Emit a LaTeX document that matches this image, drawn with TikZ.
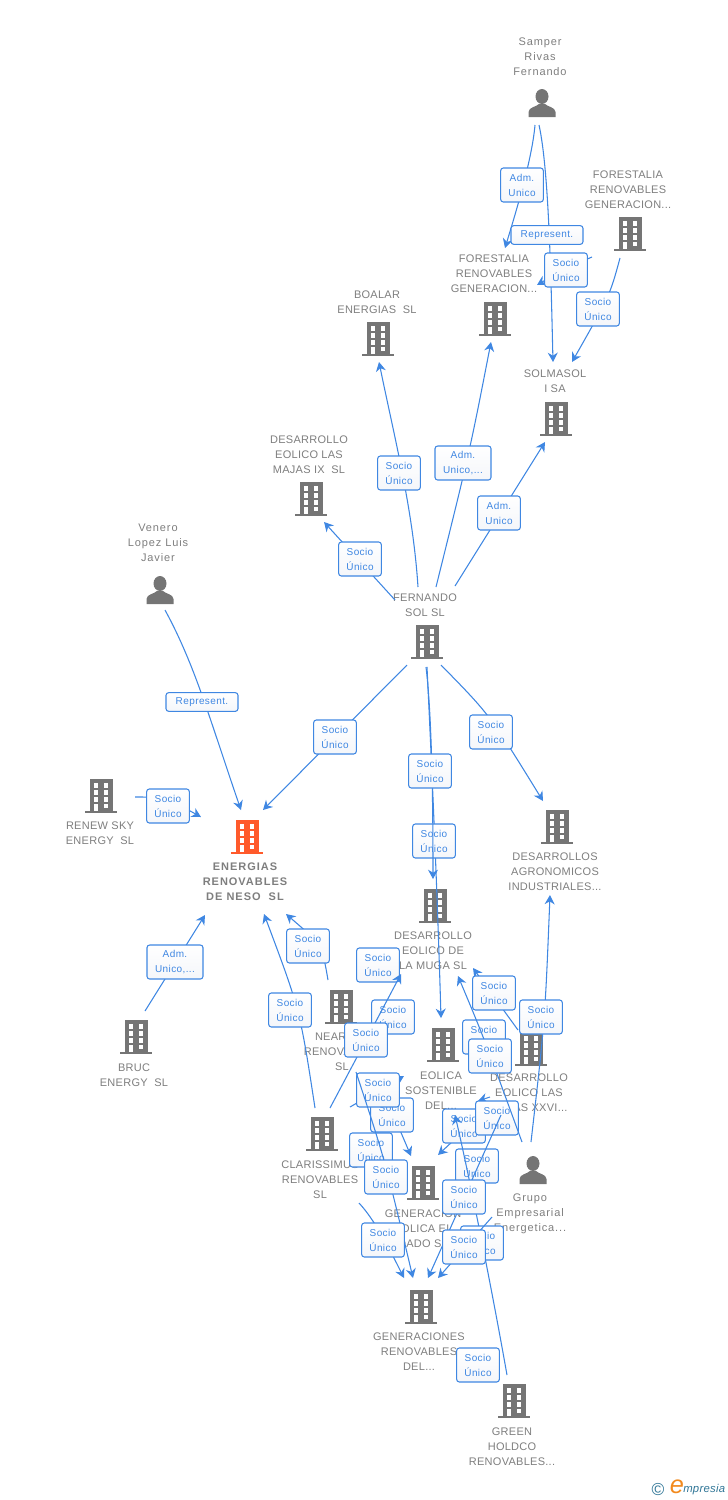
\documentclass[tikz,border=0pt]{standalone}
\usepackage{fontspec}
\setmainfont[LetterSpace=2.5]{Liberation Sans}
\newfontfamily\personfont[LetterSpace=8]{Liberation Sans}
\newfontfamily\nesofont[LetterSpace=9]{Liberation Sans}
\newfontfamily\relfont[LetterSpace=4]{Liberation Sans}
\usetikzlibrary{arrows.meta}

\definecolor{linkblue}{HTML}{3F87E2}
\definecolor{boxshade}{HTML}{F4F6FA}
\definecolor{icongray}{HTML}{757575}
\definecolor{textgray}{HTML}{7E7E7E}
\definecolor{nesoorange}{HTML}{FF5A2B}
\definecolor{marktea}{HTML}{2F7596}
\definecolor{markorange}{HTML}{F28A1E}

\tikzset{
    link/.style={draw=linkblue, line width=0.8pt, -{Stealth[length=7pt,width=7.5pt]}},
    rel/.style={draw=linkblue, line width=0.8pt, top color=white, bottom color=boxshade, rounded corners=2pt, inner sep=0pt,
        minimum width=32pt, minimum height=25.5pt, align=center, text=linkblue,
        font=\relfont\fontsize{7.5}{11.25}\selectfont},
    relwide/.style={rel, minimum width=42pt},
    relflat/.style={rel, minimum width=54pt, minimum height=14pt},
    caption/.style={inner sep=0pt, align=center, text=textgray,
        font=\fontsize{8.25}{11.25}\selectfont},
    personcaption/.style={caption, font=\personfont\fontsize{8.25}{11.25}\selectfont},
    nesocaption/.style={caption, font=\nesofont\fontsize{8.25}{11.25}\selectfont\bfseries},
    building/.style={minimum width=24pt, minimum height=26pt, inner sep=0pt,
        path picture={
            \begin{scope}[shift={(path picture bounding box.center)}]
                \fill[#1] (-11.5,-17) rectangle (11.5,15);
                \fill[#1] (-16,14.5) rectangle (16,17);
                \foreach \y in {-13.5,-6.5,0.5} {
                    \fill[white] (-7.5,\y) rectangle (-3,\y+5);
                    \fill[white] (2.5,\y) rectangle (7,\y+5);
                }
                \fill[white] (2.5,7.5) rectangle (7,12);
                \fill[white] (-7.5,7.5) rectangle (-3,15);
            \end{scope}
        }},
    building/.default=icongray,
    person/.style={minimum width=21pt, minimum height=21pt, inner sep=0pt,
        path picture={
            \begin{scope}[shift={(path picture bounding box.center)}]
                \fill[icongray] (0,-6.5) ellipse (6.5 and 7.5);
                \fill[icongray] (-13.5,14) -- (-13.5,9) .. controls (-13,4) and (-6,4) .. (-3,1)
                    -- (3,1) .. controls (6,4) and (13,4) .. (13.5,9) -- (13.5,14) -- cycle;
            \end{scope}
        }},
}

\begin{document}
\begin{tikzpicture}[x=0.75pt, y=-0.75pt]

    \useasboundingbox (0,0) rectangle (728,1500);

    % Icons
    \node[person] (samper) at (542,103) {};
    \node[person] (venero) at (160,590) {};
    \node[person] (grupo) at (533,1170) {};
    \node[building] (forestA) at (630,234) {};
    \node[building] (forestB) at (495,319) {};
    \node[building] (boalar) at (378,339) {};
    \node[building] (solmasol) at (556,419) {};
    \node[building] (majas) at (311,499) {};
    \node[building] (fernando) at (427,642) {};
    \node[building] (renew) at (101,796) {};
    \node[building=nesoorange] (neso) at (247,837) {};
    \node[building] (agro) at (557,827) {};
    \node[building] (muga) at (435,906) {};
    \node[building] (bruc) at (136,1037) {};
    \node[building] (near) at (341,1007) {};
    \node[building] (eolica) at (443,1045) {};
    \node[building] (xxvi) at (531,1049) {};
    \node[building] (clarissimus) at (322,1134) {};
    \node[building] (generacion) at (423,1183) {};
    \node[building] (generaciones) at (421,1307) {};
    \node[building] (green) at (514,1401) {};

    % Captions
    \node[personcaption] (samperText) at (540,56.5) {Samper\\Rivas\\Fernando};
    \node[personcaption] (veneroText) at (158,542.5) {Venero\\Lopez Luis\\Javier};
    \node[personcaption] (grupoText) at (530,1213.5) {Grupo\\Empresarial\\Energetica...};
    \node[caption] (forestAText) at (628,190) {FORESTALIA\\RENOVABLES\\GENERACION...};
    \node[caption] (forestBText) at (494,274) {FORESTALIA\\RENOVABLES\\GENERACION...};
    \node[caption] (boalarText) at (377,302.5) {BOALAR\\ENERGIAS\ \ SL};
    \node[caption] (solmasolText) at (555,381.5) {SOLMASOL\\I SA};
    \node[caption] (majasText) at (309,455) {DESARROLLO\\EOLICO LAS\\MAJAS IX\ \ SL};
    \node[caption] (fernandoText) at (425,605.5) {FERNANDO\\SOL SL};
    \node[caption] (renewText) at (100,833.5) {RENEW SKY\\ENERGY\ \ SL};
    \node[nesocaption] (nesoText) at (245,881.5) {ENERGIAS\\RENOVABLES\\DE NESO\ \ SL};
    \node[caption] (agroText) at (555,871.5) {DESARROLLOS\\AGRONOMICOS\\INDUSTRIALES...};
    \node[caption] (mugaText) at (433,950.5) {DESARROLLO\\EOLICO DE\\LA MUGA SL};
    \node[caption] (brucText) at (134,1075.5) {BRUC\\ENERGY\ \ SL};
    \node[caption] (nearText) at (342,1051.5) {NEAR\phantom{SOL}\\RENOVABLES\\SL};
    \node[caption] (eolicaText) at (441,1090.5) {EOLICA\\SOSTENIBLE\\DEL...};
    \node[caption] (xxviText) at (529,1092.5) {DESARROLLO\\EOLICO LAS\\MAJAS XXVI...};
    \node[caption] (clarissimusText) at (320,1179.5) {CLARISSIMUS\\RENOVABLES\\SL};
    \node[caption] (generacionText) at (423,1228.5) {GENERACION\\EOLICA EL\\DADO SL};
    \node[caption] (generacionesText) at (419,1351.5) {GENERACIONES\\RENOVABLES\\DEL...};
    \node[caption] (greenText) at (512,1446.5) {GREEN\\HOLDCO\\RENOVABLES...};

    % Upper group
    \draw[link] ([shift={(-7,22)}]samper.center) .. controls (532,160) and (515,215) .. ([shift={(10,-71)}]forestB.center);
    \node[rel] (admSamper) at (522,185) {Adm.\\Unico};
    \draw[link] ([shift={(-3,22)}]samper.center) .. controls (549,170) and (551,280) .. ([shift={(-3,-57)}]solmasol.center);
    \node[relflat] (repSamper) at (547,235) {Represent.};
    \draw[link] ([shift={(-38,23)}]forestA.center) .. controls (566,268) .. ([shift={(42,-34)}]forestB.center);
    \node[rel] (socioForestB) at (566,270) {Socio\\Único};
    \draw[link] ([shift={(-10,24)}]forestA.center) .. controls (610,295) .. ([shift={(16,-57)}]solmasol.center);
    \node[rel] (socioForestA) at (598,309) {Socio\\Único};

    \draw[link] ([shift={(-9,-55)}]fernando.center) .. controls (413,510) and (395,440) .. ([shift={(1,23)}]boalar.center);
    \node[rel] (socioBoalar) at (399,473) {Socio\\Único};
    \draw[link] ([shift={(9,-55)}]fernando.center) .. controls (470,450) .. ([shift={(-4,23)}]forestB.center);
    \node[relwide] (admForestB) at (463,463) {Adm.\\Unico,...};
    \draw[link] ([shift={(28,-56)}]fernando.center) -- ([shift={(-11,23)}]solmasol.center);
    \node[rel] (admSolmasol) at (499,513) {Adm.\\Unico};
    \draw[link] ([shift={(-32,-42)}]fernando.center) -- ([shift={(13,23)}]majas.center);
    \node[rel] (socioMajas) at (360,559) {Socio\\Único};

    % Around the main company
    \draw[link] ([shift={(5,20)}]venero.center) .. controls (195,665) and (210,720) .. ([shift={(-6,-27)}]neso.center);
    \node[relflat] (repVenero) at (202,702) {Represent.};
    \draw[link] ([shift={(-20,23)}]fernando.center) -- ([shift={(16,-27)}]neso.center);
    \node[rel] (socioNeso) at (335,737) {Socio\\Único};
    \draw[link] ([shift={(14,23)}]fernando.center) .. controls (490,715) .. ([shift={(-14,-26)}]agro.center);
    \node[rel] (socioAgro) at (491,732) {Socio\\Único};
    \draw[link] ([shift={(0,25)}]fernando.center) .. controls (431,750) and (437,880) .. ([shift={(-2,-27)}]eolica.center);
    \node[rel] (socioEolica) at (434,841) {Socio\\Único};
    \draw[link] ([shift={(-1,25)}]fernando.center) .. controls (430,700) and (433,760) .. ([shift={(-2,-27)}]muga.center);
    \node[rel] (socioMuga) at (430,771) {Socio\\Único};
    \draw[link] ([shift={(34,1)}]renew.center) .. controls (165,797) .. ([shift={(-46,-20)}]neso.center);
    \node[rel] (socioRenew) at (168,806) {Socio\\Único};
    \draw[link] ([shift={(9,-26)}]bruc.center) -- ([shift={(-42,78)}]neso.center);
    \node[relwide] (admBruc) at (175,962) {Adm.\\Unico,...};
    \draw[link] ([shift={(-7,-26)}]clarissimus.center) .. controls (300,1010) .. ([shift={(17,77)}]neso.center);
    \node[rel] (socioClar) at (290,1010) {Socio\\Único};
    \draw[link] ([shift={(-13,-27)}]near.center) .. controls (322,945) .. ([shift={(39,77)}]neso.center);
    \node[rel] (socioNear) at (308,946) {Socio\\Único};

    % Lower left group
    \node[rel] (boxA) at (378,965) {Socio\\Único};
    \node[rel] (boxB) at (393,1017) {Socio\\Único};
    \draw[link] ([shift={(44,88)}]near.center) -- ([shift={(-12,-27)}]generacion.center);
    \node[rel] (boxC) at (392,1115) {Socio\\Único};
    \draw[link] ([shift={(28,-27)}]clarissimus.center) -- ([shift={(-39,31)}]eolica.center);
    \node[rel] (boxD) at (378,1090) {Socio\\Único};
    \draw[link] ([shift={(8,-26)}]clarissimus.center) -- ([shift={(-34,68)}]muga.center);
    \node[rel] (boxE) at (366,1040) {Socio\\Único};
    \node[rel] (boxF) at (371,1150) {Socio\\Único};
    \draw[link] ([shift={(15,65)}]near.center) .. controls (385,1160) .. ([shift={(-8,-29)}]generaciones.center);
    \node[rel] (boxG) at (386,1177) {Socio\\Único};
    \draw[link] ([shift={(37,69)}]clarissimus.center) .. controls (375,1220) and (390,1250) .. ([shift={(-17,-29)}]generaciones.center);
    \node[rel] (boxH) at (383,1240) {Socio\\Único};

    % Lower right group
    \draw[link] ([shift={(-61,76)}]xxvi.center) -- ([shift={(15,-28)}]generacion.center);
    \node[rel] (boxI) at (464,1126) {Socio\\Único};
    \draw[link] ([shift={(-41,48)}]xxvi.center) -- ([shift={(35,56)}]eolica.center);
    \node[rel] (boxJ) at (497,1118) {Socio\\Único};
    \node[rel] (boxK) at (477,1166) {Socio\\Único};
    \draw[link] ([shift={(-30,66)}]xxvi.center) -- ([shift={(7,-29)}]generaciones.center);
    \draw[link] ([shift={(-7,-26)}]green.center) .. controls (492,1290) and (470,1180) .. ([shift={(12,70)}]eolica.center);
    \node[rel] (boxL) at (464,1197) {Socio\\Único};
    \node[rel] (boxM) at (482,1243) {Socio\\Único};
    \draw[link] ([shift={(-41,47)}]grupo.center) -- ([shift={(17,-29)}]generaciones.center);
    \node[rel] (boxN) at (464,1247) {Socio\\Único};
    \draw[link] ([shift={(-13,-19)}]xxvi.center) -- ([shift={(38,62)}]muga.center);
    \node[rel] (boxO) at (494,993) {Socio\\Único};
    \node[rel] (boxP) at (484,1037) {Socio\\Único};
    \draw[link] ([shift={(-11,-28)}]grupo.center) .. controls (484,1038) .. ([shift={(23,70)}]muga.center);
    \node[rel] (boxQ) at (490,1056) {Socio\\Único};
    \draw[link] ([shift={(-2,-28)}]grupo.center) .. controls (545,1020) .. ([shift={(-7,68)}]agro.center);
    \node[rel] (boxR) at (541,1017) {Socio\\Único};
    \node[rel] (boxS) at (478,1365) {Socio\\Único};

    % Mark in the corner
    \node[inner sep=0pt, text=marktea, font=\fontsize{13}{13}\selectfont] (markC) at (658,1489) {©};
    \node[inner sep=0pt, text=markorange, font=\fontsize{19}{19}\selectfont\itshape] (markE) at (677,1487) {e};
    \node[inner sep=0pt, text=marktea, font=\fontsize{8.5}{9}\selectfont\itshape, anchor=west] (markName) at (683,1490) {mpresia};

\end{tikzpicture}
\end{document}
